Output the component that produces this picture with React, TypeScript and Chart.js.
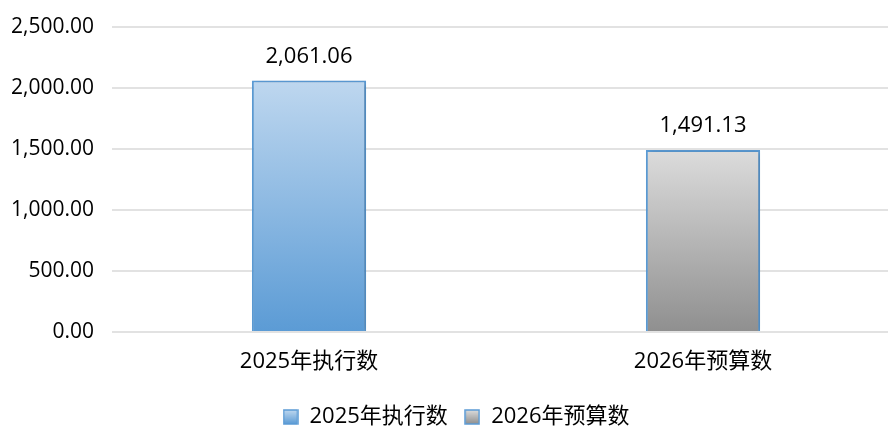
import React, { useEffect, useRef } from "react";
import { Chart, registerables } from "chart.js";

Chart.register(...registerables);

const categories = ["2025年执行数", "2026年预算数"];
const legendTexts = ["2025年执行数\u2004", "2026年预算数"];
const values = [2061.06, 1491.13];
const yTicks = [0, 500, 1000, 1500, 2000, 2500];
const gradTop = ["#bed7ef", "#dcdcdc"];
const gradBottom = ["#5b9bd5", "#8f8f8f"];

const FONT = '"Open Sans", "Noto Sans CJK SC", sans-serif';
const fmt = (v: number) =>
  v.toLocaleString("en-US", { minimumFractionDigits: 2, maximumFractionDigits: 2 });

function legendIcon(top: string, bottom: string) {
  const c = document.createElement("canvas");
  c.width = 16;
  c.height = 16;
  const g = c.getContext("2d")!;
  const gr = g.createLinearGradient(0, 1, 0, 15);
  gr.addColorStop(0, top);
  gr.addColorStop(1, bottom);
  g.fillStyle = gr;
  g.fillRect(1, 1, 14, 14);
  g.strokeStyle = "#5b9bd5";
  g.lineWidth = 1.5;
  g.strokeRect(1, 1, 14, 14);
  return c;
}

export default function App() {
  const ref = useRef<HTMLCanvasElement>(null);
  useEffect(() => {
    const canvas = ref.current!;
    const labelPlugin = {
      id: "valueLabels",
      afterDatasetsDraw(chart: any) {
        const ctx = chart.ctx;
        const meta = chart.getDatasetMeta(0);
        ctx.save();
        ctx.font = `22px ${FONT}`;
        ctx.fillStyle = "#000";
        ctx.textAlign = "center";
        ctx.textBaseline = "middle";
        meta.data.forEach((bar: any, i: number) => {
          ctx.fillText(fmt(values[i]), bar.x, bar.y - 24);
        });
        ctx.restore();
      },
    };
    const shadowPlugin = {
      id: "barShadow",
      beforeDatasetsDraw(chart: any) {
        const ctx = chart.ctx;
        ctx.save();
        ctx.shadowColor = "rgba(0,0,0,0.22)";
        ctx.shadowBlur = 5;
        ctx.shadowOffsetX = 2;
        ctx.shadowOffsetY = 1;
      },
      afterDatasetsDraw(chart: any) {
        chart.ctx.restore();
      },
    };
    const chart = new Chart(canvas, {
      type: "bar",
      data: {
        labels: categories,
        datasets: [
          {
            label: "series",
            data: values,
            backgroundColor: (c: any) => {
              const ch = c.chart;
              const y = ch.scales?.y;
              if (!y || c.type !== "data") return gradBottom[c.dataIndex ?? 0];
              const top = y.getPixelForValue(values[c.dataIndex]);
              const bot = y.getPixelForValue(0);
              const g = ch.ctx.createLinearGradient(0, top, 0, bot);
              g.addColorStop(0, gradTop[c.dataIndex]);
              g.addColorStop(1, gradBottom[c.dataIndex]);
              return g;
            },
            borderColor: "#5b9bd5",
            borderWidth: 2,
            barPercentage: 0.29,
            categoryPercentage: 1,
          },
        ],
      },
      options: {
        responsive: false,
        animation: false,
        layout: { padding: { left: 12, top: 27, right: 8, bottom: 0 } },
        plugins: {
          tooltip: { enabled: false },
          legend: {
            position: "bottom",
            labels: {
              usePointStyle: true,
              pointStyleWidth: 16,
              boxHeight: 16,
              padding: 9,
              color: "#000",
              font: { family: FONT, size: 22 },
              generateLabels: () =>
                categories.map((cat, i) => ({
                  text: legendTexts[i],
                  fillStyle: gradBottom[i],
                  strokeStyle: "#5b9bd5",
                  lineWidth: 0,
                  pointStyle: legendIcon(gradTop[i], gradBottom[i]),
                  hidden: false,
                  datasetIndex: 0,
                  index: i,
                })),
            },
          },
        },
        scales: {
          x: {
            grid: { display: false, drawTicks: false },
            border: { display: false },
            ticks: { color: "#000", font: { family: FONT, size: 22 }, padding: 17 },
            afterFit: (s: any) => {
              s.height = 65;
            },
          },
          y: {
            min: 0,
            max: 2500,
            afterBuildTicks: (s: any) => {
              s.ticks = yTicks.map((v) => ({ value: v }));
            },
            grid: { color: "#e2e2e2", lineWidth: 2, drawTicks: false },
            border: { display: false },
            ticks: {
              color: "#000",
              font: { family: FONT, size: 21 },
              padding: 18,
              callback: (v: any) => fmt(Number(v)),
            },
            afterFit: (s: any) => {
              s.width = 100;
              s.paddingTop = 0;
              s.paddingBottom = 0;
            },
          },
        },
      },
      plugins: [shadowPlugin, labelPlugin],
    });
    return () => chart.destroy();
  }, []);
  return (
    <div
      style={{
        position: "fixed",
        left: 0,
        top: 0,
        width: 888,
        height: 428,
        overflow: "hidden",
        background: "#fff",
      }}
    >
      <canvas ref={ref} width={908} height={438} style={{ display: "block" }} />
    </div>
  );
}
